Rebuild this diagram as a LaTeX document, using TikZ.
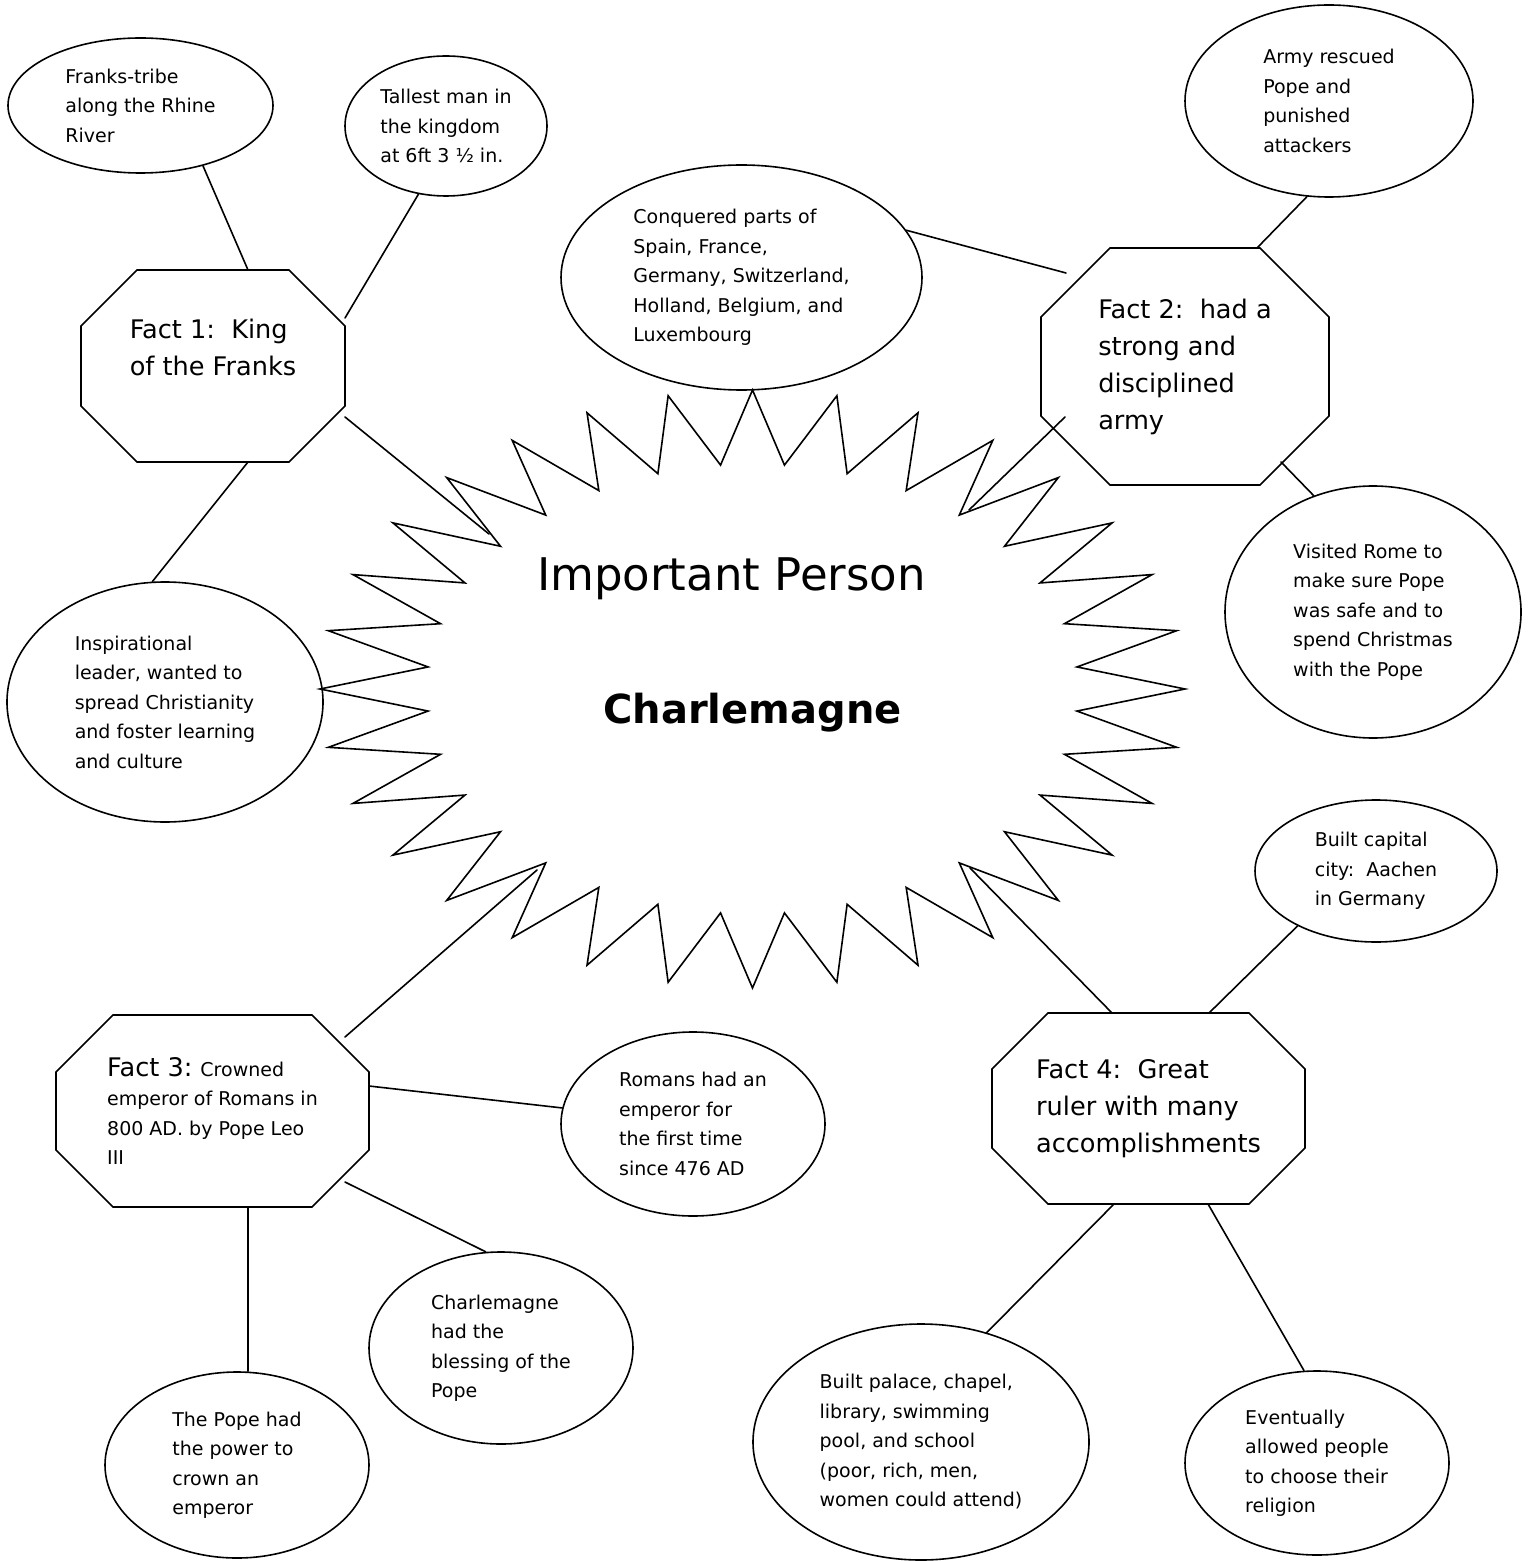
\documentclass[tikz,border=0pt]{standalone}
\usepackage{fontspec}
\setmainfont{DejaVu Sans}
\usetikzlibrary{shapes.geometric}
\newcommand{\smalltxt}{\fontsize{9.5}{14.75}\selectfont}
\newcommand{\bigtxt}{\fontsize{12.8}{18.5}\selectfont}
\newcommand{\octframe}[2]{\draw[link] ([xshift=#2]#1.north west) -- ([xshift=-#2]#1.north east) -- ([yshift=-#2]#1.north east) -- ([yshift=#2]#1.south east) -- ([xshift=-#2]#1.south east) -- ([xshift=#2]#1.south west) -- ([yshift=#2]#1.south west) -- ([yshift=-#2]#1.north west) -- cycle;}
\tikzset{
  link/.style={line width=0.8pt},
  bubble/.style={ellipse, draw, line width=0.8pt, inner sep=0pt, align=left, font=\smalltxt},
  factbox/.style={rectangle, inner sep=0pt, outer sep=0pt, align=left, font=\bigtxt}
}

\begin{document}
\begin{tikzpicture}[line cap=round, x=0.5pt, y=-0.5pt]
	\useasboundingbox (0,0) rectangle (1533,1561);
	\draw[link, shift={(752.5,689)}] (0:432.5 and 299) \foreach \k in {0,...,31}{ -- ({(\k+0.5)*11.25}:326 and 225) -- ({(\k+1)*11.25}:432.5 and 299)} -- cycle;
	\coordinate (hubnw) at (489,534);
	\coordinate (hubne) at (969,510);
	\coordinate (hubsw) at (537,870);
	\coordinate (hubse) at (970,868);
	\node[anchor=base, font=\fontsize{22.5}{27}\selectfont] (title) at (731.5,590) {Important Person};
	\node[anchor=base, font=\fontsize{20}{24}\selectfont\bfseries] (who) at (752.5,723) {Charlemagne};

	\node[factbox, minimum width=132pt, minimum height=96pt] (f1) at (213,366) {Fact 1:\ \ King\\of the Franks\\\mbox{}};
	\node[factbox, minimum width=144pt, minimum height=118.5pt] (f2) at (1185,366.5) {Fact 2:\ \ had a\\strong and\\disciplined\\army};
	\node[factbox, font=\smalltxt, minimum width=156.5pt, minimum height=96pt] (f3) at (212.5,1111) {{\bigtxt Fact 3:} Crowned\\emperor of Romans in\\800 AD. by Pope Leo\\III};
	\node[factbox, minimum width=156.5pt, minimum height=95.5pt] (f4) at (1148.5,1108.5) {Fact 4:\ \ Great\\ruler with many\\accomplishments};
	\octframe{f1}{28pt}
	\octframe{f2}{34.5pt}
	\octframe{f3}{28.5pt}
	\octframe{f4}{28pt}

	\node[bubble, minimum width=132.5pt, minimum height=67.5pt] (franks) at (140.5,105.5) {Franks-tribe\\along the Rhine\\River};
	\node[bubble, minimum width=101pt, minimum height=70pt] (tallest) at (446,126) {Tallest man in\\the kingdom\\at 6ft 3 ½ in.};
	\node[bubble, minimum width=180.5pt, minimum height=112.5pt] (conquered) at (741.5,277.5) {Conquered parts of\\Spain, France,\\Germany, Switzerland,\\Holland, Belgium, and\\Luxembourg};
	\node[bubble, minimum width=144pt, minimum height=96pt] (army) at (1329,101) {Army rescued\\Pope and\\punished\\attackers};
	\node[bubble, minimum width=158pt, minimum height=120pt] (inspire) at (165,702) {Inspirational\\leader, wanted to\\spread Christianity\\and foster learning\\and culture};
	\node[bubble, minimum width=148pt, minimum height=126pt] (rome) at (1373,612) {Visited Rome to\\make sure Pope\\was safe and to\\spend Christmas\\with the Pope};
	\node[bubble, minimum width=121pt, minimum height=71pt] (capital) at (1376,871) {Built capital\\city:\ \ Aachen\\in Germany};
	\node[bubble, minimum width=132pt, minimum height=92pt] (romans) at (693,1124) {Romans had an\\emperor for\\the first time\\since 476 AD};
	\node[bubble, minimum width=132pt, minimum height=96pt] (blessing) at (501,1348) {Charlemagne\\had the\\blessing of the\\Pope};
	\node[bubble, minimum width=132pt, minimum height=93pt] (popehad) at (237,1465) {The Pope had\\the power to\\crown an\\emperor};
	\node[bubble, minimum width=168pt, minimum height=118pt] (palace) at (921,1442) {Built palace, chapel,\\library, swimming\\pool, and school\\(poor, rich, men,\\women could attend)};
	\node[bubble, minimum width=132pt, minimum height=92pt] (religion) at (1317,1463) {Eventually\\allowed people\\to choose their\\religion};

	\draw[link] ([xshift=17.5pt]f1.north) -- (franks.316);
	\draw[link] ([yshift=24pt]f1.east) -- (tallest.248);
	\draw[link] ([yshift=-25.5pt]f1.east) -- (hubnw);
	\draw[link] ([xshift=17.5pt]f1.south) -- (inspire.96);
	\draw[link] ([xshift=36pt]f2.north) -- (army.257);
	\draw[link] ([shift={(12.5pt,-12.5pt)}]f2.north west) -- (conquered.16);
	\draw[link] ([shift={(12pt,34pt)}]f2.south west) -- (hubne);
	\draw[link] ([shift={(-24pt,11.5pt)}]f2.south east) -- (rome.117);
	\draw[link] ([shift={(-12pt,-11pt)}]f3.north east) -- (hubsw);
	\draw[link] ([yshift=12.5pt]f3.east) -- (romans.173);
	\draw[link] ([shift={(-12pt,12.5pt)}]f3.south east) -- (blessing.99);
	\draw[link] ([xshift=17.75pt]f3.south) -- ([xshift=17.75pt]f3.south |- popehad.north);
	\draw[link] ([xshift=-18.25pt]f4.north) -- (hubse);
	\draw[link] ([xshift=30.25pt]f4.north) -- (capital.215);
	\draw[link] ([xshift=-17.25pt]f4.south) -- (palace.59);
	\draw[link] ([xshift=29.75pt]f4.south) -- (religion.98);
\end{tikzpicture}
\end{document}
